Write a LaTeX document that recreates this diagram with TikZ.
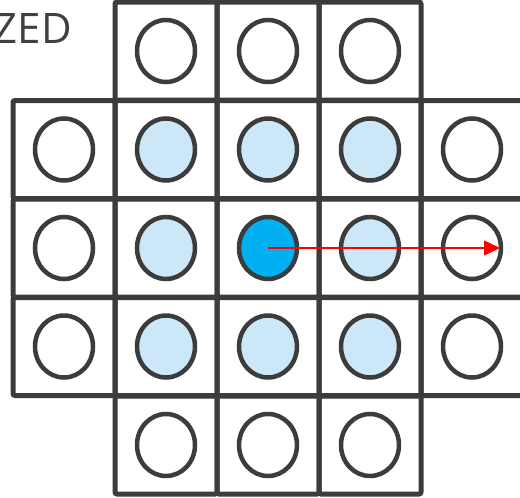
\documentclass[tikz,border=0pt]{standalone}
\usepackage{fontspec}
\setmainfont{Open Sans}
\usetikzlibrary{shapes.geometric,arrows.meta}
\definecolor{gridgray}{HTML}{3C3C3C}
\definecolor{textgray}{HTML}{404040}
\definecolor{paleblue}{HTML}{CCE8F8}
\definecolor{deepblue}{HTML}{00B0F0}

\begin{document}
\begin{tikzpicture}[x=1pt,y=-1pt,
  cell/.style={draw=gridgray,line width=5pt,rounded corners=2pt,
    minimum width=102pt,minimum height=98pt,inner sep=0pt},
  dot/.style={ellipse,draw=gridgray,line width=4.5pt,
    minimum width=58pt,minimum height=62pt,inner sep=0pt},
  movearrow/.style={red,line width=1.5pt,-{Triangle[length=16pt,width=15pt]}}]
  \useasboundingbox (0,0) rectangle (520,498);
  \clip (0,0) rectangle (520,498);
  % squares and dots
  \foreach \i/\cols in {1/{2,3,4},2/{1,2,3,4,5},3/{1,2,3,4,5},4/{1,2,3,4,5},5/{2,3,4}}
    \foreach \j in \cols {
      \pgfmathtruncatemacro\inner{(\i>1)&&(\i<5)&&(\j>1)&&(\j<5)}
      \ifnum\inner=1 \def\dotcol{paleblue}\else\def\dotcol{white}\fi
      \ifnum\i=3 \ifnum\j=3 \def\dotcol{deepblue}\fi\fi
      \node[cell] (c-\i-\j) at ({64+102*(\j-1)},{51+98.5*(\i-1)}) {};
      \node[dot,fill=\dotcol] (d-\i-\j) at (c-\i-\j) {};
    }
  \coordinate (tip) at (500,248);
  \draw[movearrow] (d-3-3.center) -- (tip);
  \node[anchor=base east,inner sep=0pt,text=textgray,
    font=\fontsize{42}{48}\selectfont] (title) at (72,43) {ZED};
\end{tikzpicture}
\end{document}
